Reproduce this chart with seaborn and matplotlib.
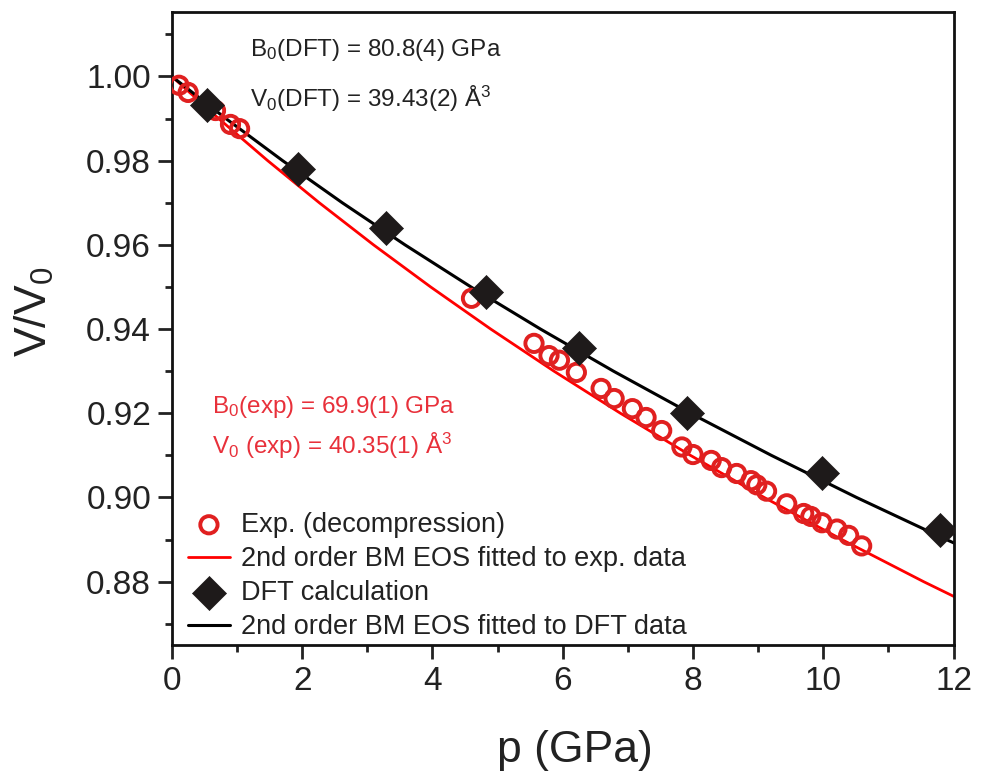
import numpy as np
import pandas as pd
import matplotlib
matplotlib.use("Agg")
import matplotlib.pyplot as plt
import seaborn as sns
from matplotlib.ticker import MultipleLocator

# experimental points (decompression)
p_exp = [0.11, 0.25, 0.67, 0.90, 1.04, 4.60, 5.56, 5.79, 5.95, 6.21, 6.59, 6.79,
         7.07, 7.28, 7.52, 7.83, 8.00, 8.28, 8.44, 8.67, 8.89, 8.98, 9.13, 9.44,
         9.70, 9.81, 9.98, 10.21, 10.39, 10.59]
v_exp = [0.9979, 0.9962, 0.9919, 0.9886, 0.9876, 0.9473, 0.9366, 0.9337, 0.9326,
         0.9297, 0.9259, 0.9235, 0.9211, 0.9190, 0.9159, 0.9120, 0.9102, 0.9088,
         0.9071, 0.9057, 0.9040, 0.9030, 0.9015, 0.8985, 0.8962, 0.8955, 0.8940,
         0.8925, 0.8910, 0.8885]

# DFT points
p_dft = [0.54, 1.93, 3.28, 4.83, 6.25, 7.91, 9.98, 11.79]
v_dft = [0.9931, 0.9781, 0.9641, 0.9489, 0.9354, 0.9200, 0.9057, 0.8922]

# fitted BM curves
v_fit = [1.00, 0.99, 0.98, 0.97, 0.96, 0.95, 0.94, 0.93, 0.92, 0.91, 0.90, 0.89, 0.88, 0.87]
p_fit_exp = [0.0, 0.717, 1.471, 2.263, 3.096, 3.973, 4.895, 5.866, 6.887, 7.962,
             9.094, 10.286, 11.542, 12.865]
p_fit_dft = [0.0, 0.829, 1.700, 2.616, 3.579, 4.592, 5.659, 6.780, 7.961, 9.204,
             10.512, 11.890, 13.342, 14.871]

sns.set_style("ticks")
plt.rcParams['font.family'] = ['Liberation Sans', 'DejaVu Sans']
plt.rcParams['mathtext.fontset'] = 'custom'
plt.rcParams['mathtext.rm'] = 'Liberation Sans'
plt.rcParams['mathtext.it'] = 'Liberation Sans'

fig = plt.figure(figsize=(9.82, 7.76), dpi=100)
ax = fig.add_axes([0.175, 0.169, 0.796, 0.815])

red = '#e02020'
dark = '#1e1a1a'
txt = '#222222'

sns.scatterplot(x=p_exp, y=v_exp, ax=ax, marker='o', s=155, facecolor='none',
                edgecolor=red, linewidth=2.8, label='Exp. (decompression)', zorder=3)
sns.lineplot(x=p_fit_exp, y=v_fit, ax=ax, sort=False, color='#ff0000', lw=2,
             label='2nd order BM EOS fitted to exp. data', zorder=2)
sns.scatterplot(x=p_dft, y=v_dft, ax=ax, marker='D', s=300, color=dark,
                edgecolor=dark, linewidth=0.5, label='DFT calculation', zorder=4)
sns.lineplot(x=p_fit_dft, y=v_fit, ax=ax, sort=False, color='black', lw=2.2,
             label='2nd order BM EOS fitted to DFT data', zorder=2)

ax.set_xlim(0, 12)
ax.set_ylim(0.865, 1.0152)
ax.xaxis.set_major_locator(MultipleLocator(2))
ax.xaxis.set_minor_locator(MultipleLocator(1))
ax.yaxis.set_minor_locator(MultipleLocator(0.01))
ax.set_yticks(np.arange(0.88, 1.001, 0.02))
ax.yaxis.set_major_formatter(matplotlib.ticker.FormatStrFormatter('%.2f'))
ax.tick_params(which='major', length=10, width=2, labelsize=24, color=txt,
               labelcolor=txt, pad=5)
ax.tick_params(which='minor', length=5, width=2, color=txt)
for s in ax.spines.values():
    s.set_linewidth(2)
    s.set_color('#111111')

ax.set_xlabel('p (GPa)', fontsize=32, color=txt, labelpad=24, x=0.515)
ax.set_ylabel('V/V$_0$', fontsize=32, color=txt, labelpad=22, y=0.526)

ax.text(0.0996, 0.94, 'B$_0$(DFT) = 80.8(4) GPa', transform=ax.transAxes,
        fontsize=17.5, color=txt, va='center')
ax.text(0.0996, 0.864, 'V$_0$(DFT) = 39.43(2) Å$^3$', transform=ax.transAxes,
        fontsize=17.5, color=txt, va='center')
ax.text(0.052, 0.376, 'B$_0$(exp) = 69.9(1) GPa', transform=ax.transAxes,
        fontsize=17.5, color='#e8303a', va='center')
ax.text(0.052, 0.314, 'V$_0$ (exp) = 40.35(1) Å$^3$', transform=ax.transAxes,
        fontsize=17.5, color='#e8303a', va='center')

leg = ax.legend(loc='lower left', frameon=False, fontsize=19.5, handlelength=1.55,
                handletextpad=0.4, labelspacing=0.3, borderaxespad=0.05,
                bbox_to_anchor=(0.005, -0.012))
for t in leg.get_texts():
    t.set_color(txt)

fig.savefig('out.png', dpi=100)
